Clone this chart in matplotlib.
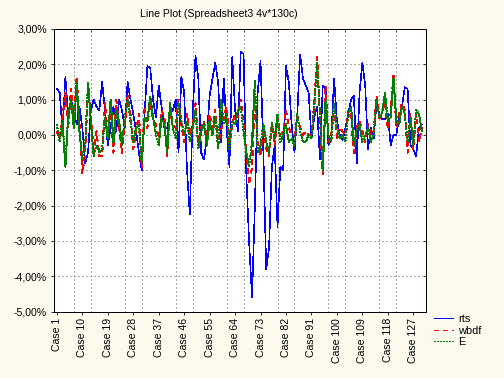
import numpy as np
import matplotlib
matplotlib.use("Agg")
import matplotlib.pyplot as plt
from matplotlib.ticker import FuncFormatter

# values in percent (130 cases)
rts = [1.3, 1.2, 0.1, 1.65, 0.5, 1.0, 0.6, 0.3, 0.8, 0.2,
       -0.8, -0.5, 0.7, 1.0, 0.8, 0.7, 1.5, 0.7, -0.3, 0.2,
       0.8, 0.1, 1.0, 0.7, 0.2, 1.5, 1.0, 0.6, 0.1, -0.5,
       -1.0, 0.6, 1.95, 1.9, 1.0, 0.5, 1.4, 0.8, 0.2, 0.2,
       0.6, 0.7, 1.0, -0.5, 1.65, 1.2, -1.0, -2.25, 0.6, 2.25,
       1.6, -0.5, -0.7, -0.1, 1.1, 1.6, 2.05, 1.5, -0.2, 1.6,
       0.2, -0.9, 2.2, 0.7, 0.1, 2.35, 2.3, -1.2, -3.1, -4.6,
       -2.0, 1.2, 2.1, -0.5, -3.8, -3.2, -0.9, -0.3, -2.6, -0.9,
       -1.0, 1.95, 1.5, 0.3, -0.5, 0.6, 2.28, 1.6, 1.4, 1.2,
       -0.1, 0.5, 0.8, -0.7, 1.4, 1.3, -0.3, -0.1, 1.6, 0.4,
       0.0, -0.15, 0.2, 0.6, 1.0, 1.1, -0.8, 1.2, 2.05, 1.4,
       -0.4, 0.2, -0.1, 0.9, 0.6, 0.45, 0.45, 0.6, -0.3, 0.0,
       0.0, 0.5, 0.8, 1.35, 1.3, -0.3, -0.4, -0.6, 0.2, 0.3]

wbdf = [0.1, -0.1, 0.5, 1.2, 0.2, 1.3, 0.4, 1.65, 0.3, -1.1,
        -0.5, 1.3, 0.6, -0.5, 0.1, -0.6, -0.6, 0.9, 0.0, 0.8,
        -0.5, 1.0, 0.2, -0.5, 0.3, 1.1, 0.6, -0.4, 0.1, 0.6,
        -0.9, 0.8, 0.2, 1.0, 0.4, 0.3, -0.1, 0.7, 0.5, -0.6,
        0.7, 0.3, 0.2, 1.0, 0.3, -0.2, 0.6, 0.0, 0.3, 0.9,
        -0.3, 0.2, 0.4, -0.1, 0.6, 0.2, 0.7, -0.3, 0.1, 0.5,
        0.8, -0.2, 0.3, 0.6, 0.5, 1.0, 0.4, -0.6, -1.4, -0.9,
        1.15, -0.2, -0.6, 0.2, -0.4, -0.6, 0.3, -0.3, 0.5, 0.0,
        0.1, 0.7, 0.2, 0.0, 0.0, 0.5, 0.2, 0.0, 0.1, 0.0,
        0.0, 0.9, 2.2, 0.5, -1.1, 1.4, -0.2, 0.0, 0.9, -0.1,
        0.2, 0.1, 0.0, 0.7, 0.5, -0.5, 0.2, 0.4, 0.1, -0.2,
        0.3, 0.0, 0.1, 1.1, 0.4, 0.7, 0.9, 0.2, 0.6, 1.75,
        0.2, 0.6, 0.9, 0.7, -0.5, 0.6, -0.4, 0.6, -0.2, 0.2]

E = [0.3, -0.2, 0.4, -0.9, 0.6, 1.0, 0.2, 1.5, 0.1, -0.7,
     -0.3, 1.5, 0.4, -0.6, -0.3, -0.5, -0.4, 0.5, -0.1, 1.0,
     -0.2, 0.7, 0.4, -0.3, 0.5, 1.0, 0.4, -0.2, 0.2, 0.3,
     -0.8, 0.5, 0.4, 1.1, 0.5, 0.0, -0.3, 0.5, 0.3, -0.5,
     0.9, 0.2, -0.1, 0.9, 0.4, 0.0, 0.4, -0.2, 0.2, 0.7,
     -0.4, 0.1, 0.3, -0.3, 0.4, 0.0, 0.5, -0.4, 1.0, 0.3,
     0.6, -0.4, 0.4, 0.3, 0.7, 0.8, 0.1, -0.5, -0.9, -0.2,
     1.55, -0.5, -0.3, 0.3, -0.2, -0.5, 0.35, -0.1, 0.6, -0.2,
     0.0, 0.3, -0.2, -0.1, -0.3, 0.6, 0.1, -0.2, -0.2, 0.0,
     -0.1, 0.8, 2.05, 0.6, -1.0, 1.0, 0.0, -0.2, 0.9, 0.2,
     -0.1, 0.0, -0.2, 0.6, 0.8, -0.3, 0.1, 0.3, -0.2, 0.0,
     0.2, -0.2, 0.0, 1.0, 0.5, 0.6, 1.2, 0.4, 0.5, 1.6,
     0.4, 0.3, 0.8, 0.6, -0.2, 0.5, -0.3, 0.7, 0.6, 0.1]

cases = np.arange(1, len(rts) + 1)
label_cases = list(range(1, 131, 9))
grid_cases = list(range(1, 131, 6))
title = "Line Plot (Spreadsheet3 4v*130c)"

plt.rcParams['font.family'] = ['Liberation Sans', 'DejaVu Sans']
plt.rcParams['lines.antialiased'] = False   # crisp pixel lines like the original export
plt.rcParams['lines.scale_dashes'] = False

fig = plt.figure(figsize=(7, 5.25), dpi=72, facecolor='#fdf9ef')
ax = fig.add_axes([53.5 / 504, 1 - 311.5 / 378, (426 - 53.5) / 504, (311.5 - 29) / 378])
ax.set_facecolor('white')

ax.plot(cases, rts, color='#0000ff', lw=0.6, label='rts')
ax.plot(cases, wbdf, color='#ff0000', lw=0.6, ls=(0, (4, 4)), label='wbdf')
ax.plot(cases, E, color='#008000', lw=0.6, ls=(0, (1, 1)), label='E')

ax.set_xlim(-0.2, 131.5)
ax.set_ylim(-5, 3)
ax.set_yticks(np.arange(-5, 3.01, 1))
ax.yaxis.set_major_formatter(FuncFormatter(lambda v, p: f"{v:.2f}%".replace('.', ',')))

ax.set_xticks(label_cases)
ax.set_xticklabels([f"Case {c}" for c in label_cases], rotation=90)
ax.set_xticks(grid_cases, minor=True)

ax.grid(which='minor', axis='x', ls=(0, (1, 2)), color='#a8a8a8', lw=0.6)
ax.grid(which='major', axis='y', ls=(0, (1, 2)), color='#a8a8a8', lw=0.6)
ax.grid(which='major', axis='x', visible=False)

ax.tick_params(axis='both', which='major', labelsize=10.5, length=3, width=0.8, color='black')
ax.tick_params(axis='x', which='minor', bottom=False, top=True, direction='in', length=3)
for s in ax.spines.values():
    s.set_linewidth(1.0)
    s.set_color('black')

# inward ticks on the right edge
sec = ax.secondary_yaxis('right')
sec.set_yticks(np.arange(-5, 3.01, 1))
sec.tick_params(direction='in', length=3, labelright=False)

fig.text(219 / 504, 1 - 14 / 378, title, ha='center', va='center', fontsize=10.5)

handles, labels = ax.get_legend_handles_labels()
fig.legend(handles, labels, loc='upper left', bbox_to_anchor=(434 / 504, 1 - 314 / 378),
           frameon=False, fontsize=11, handlelength=1.7, handletextpad=0.5,
           labelspacing=0.15, borderpad=0, borderaxespad=0)

fig.savefig('out.png', dpi=72, facecolor=fig.get_facecolor())
